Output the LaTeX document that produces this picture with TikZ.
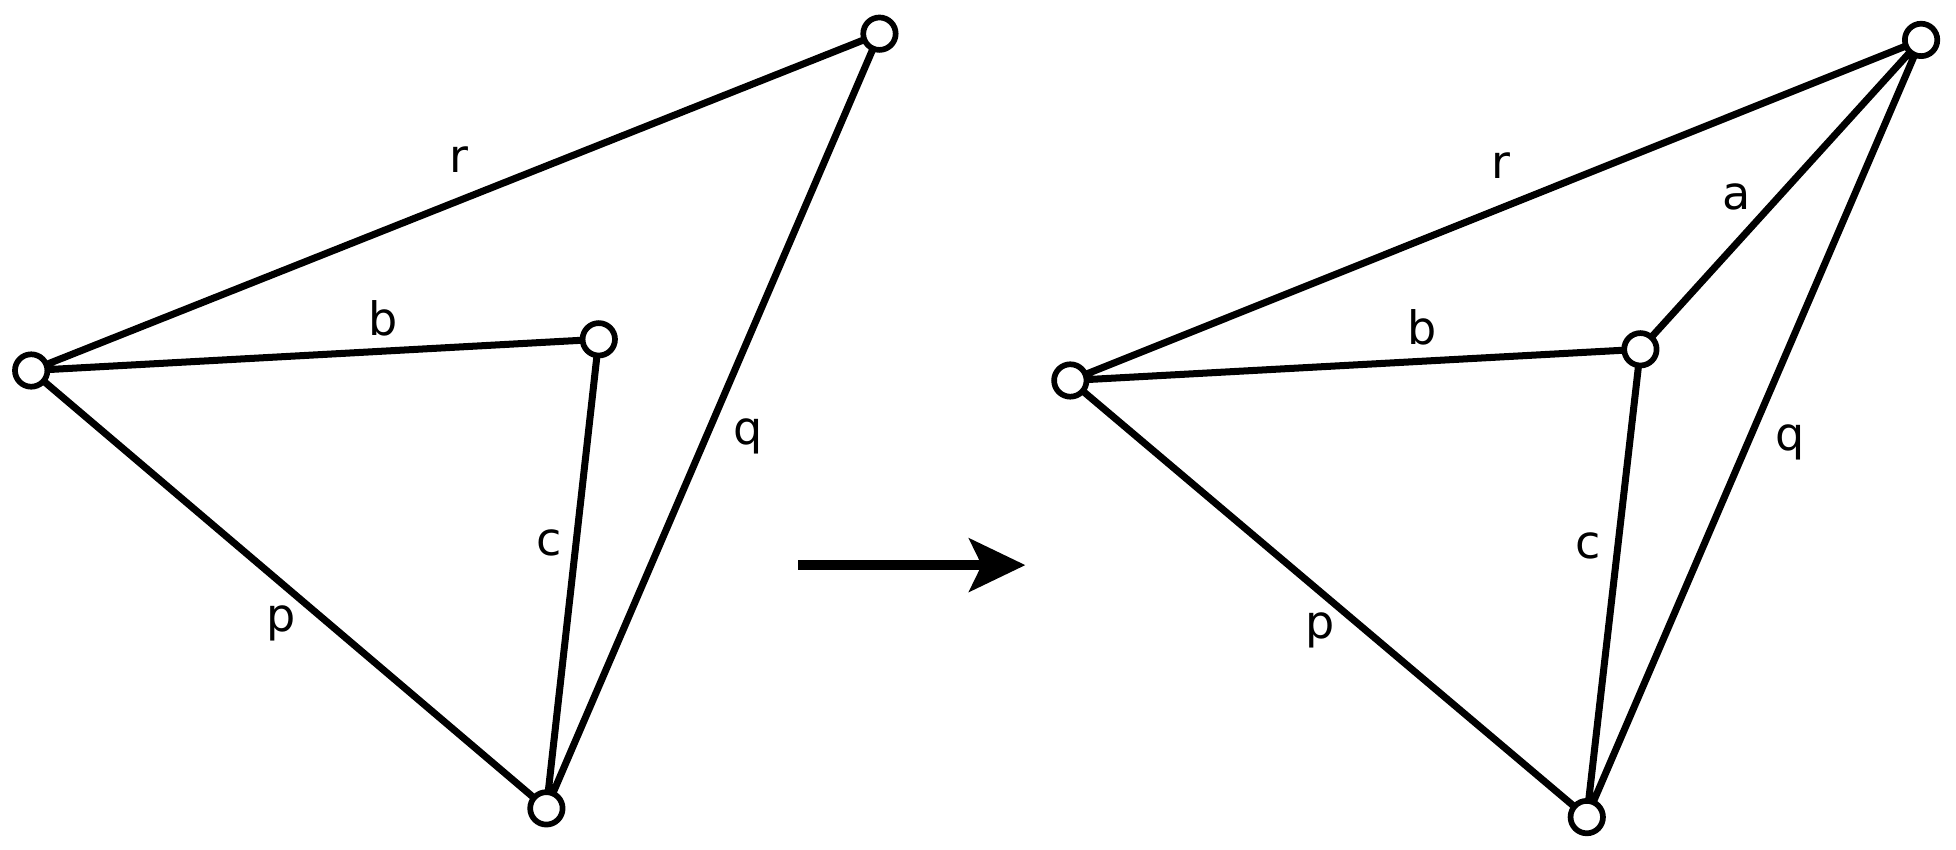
\documentclass[tikz,border=0pt]{standalone}
\usepackage{fontspec}
\setmainfont{DejaVu Sans}
\usetikzlibrary{arrows.meta}
\begin{document}
\begin{tikzpicture}[x=0.02cm,y=-0.02cm,
  vtx/.style={circle,draw,fill=white,line width=2.6pt,minimum size=0.52cm,inner sep=0pt},
  edge/.style={line width=3.2pt},
  lbl/.style={font=\fontsize{21}{25}\selectfont}]
\useasboundingbox (0,0) rectangle (1568,681);
% left
\coordinate (A) at (25,297); \coordinate (B) at (480,272);
\coordinate (C) at (438,648); \coordinate (D) at (705,27);
\draw[edge] (A)--(D) (A)--(B) (A)--(C) (B)--(C) (C)--(D);
\foreach \n in {A,B,C,D} \node[vtx] (v\n) at (\n) {};
\node[lbl] (lr) at (368,128) {r};
\node[lbl] (lb) at (307,255) {b};
\node[lbl] (lc) at (440,435) {c};
\node[lbl] (lp) at (225,500) {p};
\node[lbl] (lq) at (600,350) {q};
% arrow
\coordinate (s) at (640,453); \coordinate (t) at (822,453);
\draw[line width=4.4pt,-{Stealth[length=0.9cm,width=0.85cm,inset=0.2cm]}] (s)--(t);
% right
\coordinate (E) at (858,305); \coordinate (F) at (1315,280);
\coordinate (G) at (1272,655); \coordinate (H) at (1540,32);
\draw[edge] (E)--(H) (E)--(F) (E)--(G) (F)--(G) (G)--(H) (F)--(H);
\foreach \n in {E,F,G,H} \node[vtx] (v\n) at (\n) {};
\node[lbl] (mr) at (1203,133) {r};
\node[lbl] (ma) at (1392,158) {a};
\node[lbl] (mb) at (1140,262) {b};
\node[lbl] (mc) at (1273,438) {c};
\node[lbl] (mp) at (1058,505) {p};
\node[lbl] (mq) at (1435,355) {q};
\end{tikzpicture}
\end{document}
